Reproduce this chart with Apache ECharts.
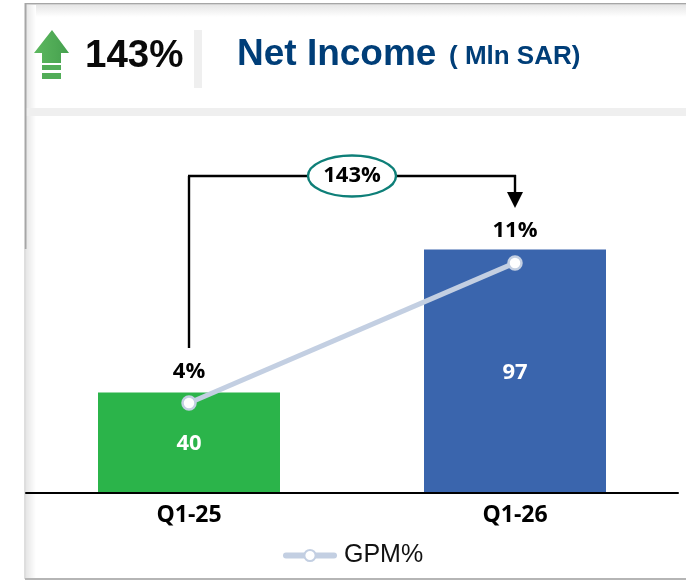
<!DOCTYPE html>
<html>
<head>
<meta charset="utf-8" />
<title>Net Income</title>
<script src="https://cdn.jsdelivr.net/npm/echarts@6/dist/echarts.min.js"></script>
<style>
  html, body { margin: 0; padding: 0; background: #fff; }
  #main { width: 686px; height: 580px; }
</style>
</head>
<body>
<div id="main"></div>
<script>
var categories = ['Q1-25', 'Q1-26'];
var incomeValues = [40, 97];
var gpmValues = [4.3, 11];
var gpmLabels = ['4%', '11%'];
var barColors = ['#2BB44A', '#3A65AD'];
var changeLabel = '143%';

var calibriLike = '"Open Sans", "Noto Sans", sans-serif';
var myChart = echarts.init(document.getElementById('main'));

function box(x, y, w, h, fill) {
  return { type: 'rect', silent: true, z: 1, shape: { x: x, y: y, width: w, height: h }, style: { fill: fill } };
}
function seg(x1, y1, x2, y2) {
  return { type: 'line', silent: true, z: 5, shape: { x1: x1, y1: y1, x2: x2, y2: y2 }, style: { stroke: '#000', lineWidth: 2.4 } };
}
function fadeRight(x, y, w, h) {
  return box(x, y, w, h, new echarts.graphic.LinearGradient(0, 0, 1, 0, [
    { offset: 0, color: '#e6e6e6' }, { offset: 1, color: '#ffffff' }
  ]));
}
function fadeDown(x, y, w, h) {
  return box(x, y, w, h, new echarts.graphic.LinearGradient(0, 0, 0, 1, [
    { offset: 0, color: '#e6e6e6' }, { offset: 1, color: '#ffffff' }
  ]));
}

var arrowFill = new echarts.graphic.LinearGradient(0, 0, 1, 0, [
  { offset: 0, color: '#5DB85F' }, { offset: 1, color: '#45A04E' }
]);

var option = {
  animation: false,
  backgroundColor: '#fff',
  grid: { left: 26, right: 8, top: 242, bottom: 87 },
  legend: {
    data: ['GPM%'],
    left: 278,
    top: 538,
    itemWidth: 48,
    itemHeight: 14,
    lineStyle: { width: 6, cap: 'round' },
    textStyle: { fontFamily: 'Liberation Sans', fontSize: 25, color: '#111', padding: [0, 0, 0, 5] }
  },
  xAxis: {
    type: 'category',
    data: categories,
    z: 3,
    axisTick: { show: false },
    axisLine: { lineStyle: { color: '#000', width: 2 } },
    axisLabel: { margin: 11, fontFamily: calibriLike, fontWeight: 'bold', fontSize: 23, color: '#000' }
  },
  yAxis: [
    { type: 'value', min: 0, max: 100, show: false },
    { type: 'value', min: 0, max: 12, show: false }
  ],
  series: [
    {
      name: 'Net Income',
      type: 'bar',
      barWidth: 182,
      data: incomeValues.map(function (v, i) {
        return { value: v, itemStyle: { color: barColors[i] } };
      }),
      label: {
        show: true,
        position: 'inside',
        offset: [0, 1],
        fontFamily: calibriLike,
        fontWeight: 'bold',
        fontSize: 22,
        color: '#fff'
      },
      z: 2
    },
    {
      name: 'GPM%',
      type: 'line',
      yAxisIndex: 1,
      data: gpmValues,
      symbol: 'circle',
      symbolSize: 13,
      showSymbol: true,
      lineStyle: { color: '#C3CFE2', width: 5 },
      itemStyle: { color: '#fff', borderColor: '#C3CFE2', borderWidth: 2.5 },
      label: {
        show: true,
        position: 'top',
        distance: 13,
        formatter: function (p) { return gpmLabels[p.dataIndex]; },
        fontFamily: calibriLike,
        fontWeight: 'bold',
        fontSize: 22,
        color: '#000'
      },
      z: 4
    }
  ],
  graphic: [
    // frame and shaded strips of the card
    fadeDown(26, 5, 660, 12),
    fadeRight(26, 5, 10, 573),
    box(26, 108, 660, 8, '#efefef'),
    box(25, 3, 661, 1.5, '#a6a6a6'),
    box(24.5, 3, 2, 246, '#a6a6a6'),
    box(24.5, 249, 1, 330, '#bdbdbd'),
    box(25, 578, 661, 2, '#b5b5b5'),
    box(194, 30, 8, 58, '#efefef'),

    // green up arrow
    { type: 'polygon', silent: true, z: 3, shape: { points: [[52, 30], [69, 53], [61, 53], [61, 63], [42, 63], [42, 53], [34, 53]] }, style: { fill: arrowFill } },
    box(42, 65, 19, 5, '#52AD58'),
    box(42, 73, 19, 6, '#52AD58'),

    // header text
    { type: 'text', silent: true, z: 3, x: 85, y: 56, style: { text: changeLabel, verticalAlign: 'middle', fontFamily: 'Liberation Sans', fontWeight: 'bold', fontSize: 38.5, fill: '#0a0a0a' } },
    { type: 'text', silent: true, z: 3, x: 237, y: 55, style: { text: 'Net Income', verticalAlign: 'middle', fontFamily: 'Liberation Sans', fontWeight: 'bold', fontSize: 37, fill: '#003E78' } },
    { type: 'text', silent: true, z: 3, x: 449, y: 57, style: { text: '( Mln SAR)', verticalAlign: 'middle', fontFamily: 'Liberation Sans', fontWeight: 'bold', fontSize: 26, fill: '#003E78' } },

    // change connector between the two quarters
    seg(189, 348, 189, 176),
    seg(188, 176, 516, 176),
    seg(515, 175, 515, 192),
    { type: 'polygon', silent: true, z: 5, shape: { points: [[507, 192], [523, 192], [515, 208]] }, style: { fill: '#000' } },
    { type: 'ellipse', silent: true, z: 6, shape: { cx: 352, cy: 176, rx: 44, ry: 20.5 }, style: { fill: '#fff', stroke: '#0E7F78', lineWidth: 2.4 } },
    { type: 'text', silent: true, z: 7, x: 352, y: 176, style: { text: changeLabel, align: 'center', verticalAlign: 'middle', fontFamily: calibriLike, fontWeight: 'bold', fontSize: 22, fill: '#000' } }
  ]
};
myChart.setOption(option);
</script>
</body>
</html>
